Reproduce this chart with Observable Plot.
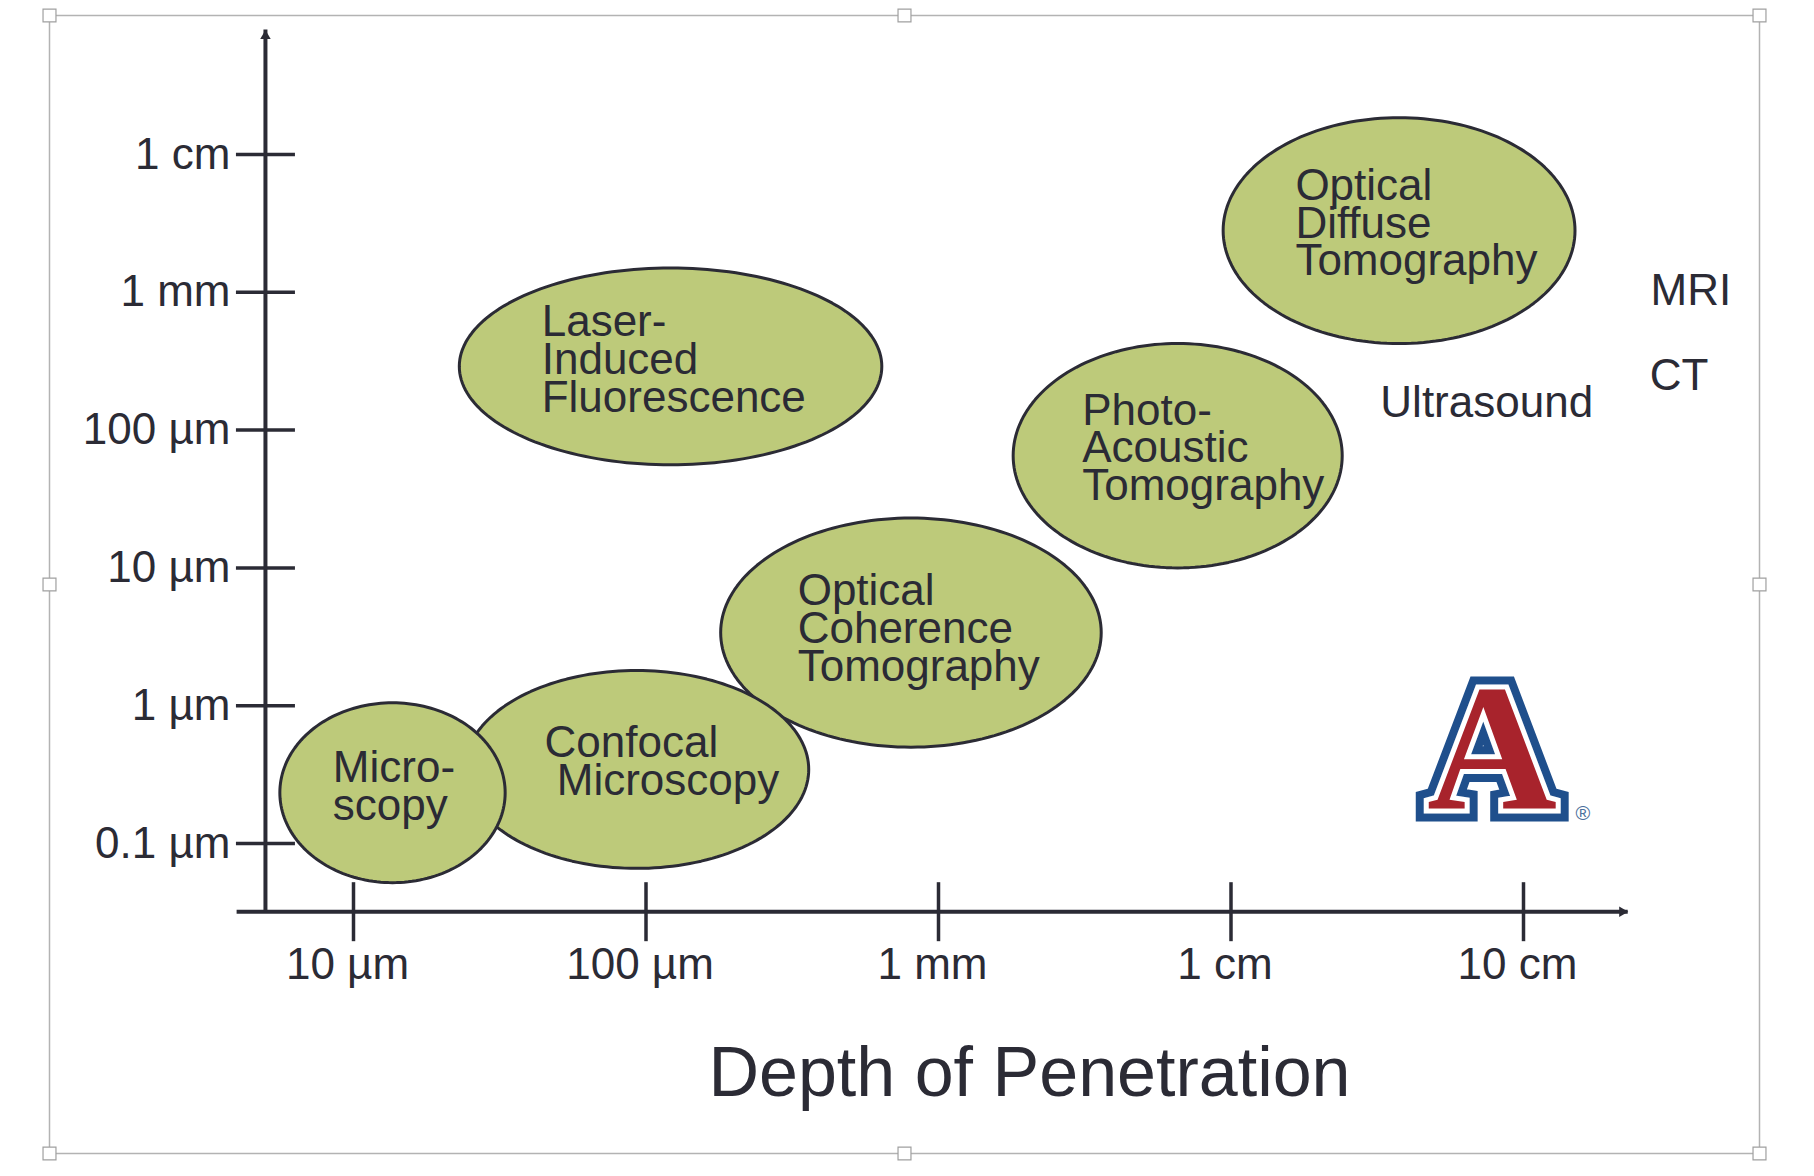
<!DOCTYPE html>
<html>
<head>
<meta charset="utf-8">
<script src="https://cdn.jsdelivr.net/npm/d3@7"></script>
<script src="https://cdn.jsdelivr.net/npm/@observablehq/plot@0.6"></script>
<style>
  html, body { margin: 0; padding: 0; background: #ffffff; }
  #chart svg { display: block; }
</style>
</head>
<body>
<div id="chart"></div>
<script>
// ---------- data (all lengths in µm) ----------
const techniques = ["Microscopy", "Confocal Microscopy", "Laser-Induced Fluorescence",
  "Optical Coherence Tomography", "Photo-Acoustic Tomography", "Optical Diffuse Tomography"];
const techniqueLabels = ["Micro-\nscopy", "Confocal\n\u00a0Microscopy", "Laser-\nInduced\nFluorescence",
  "Optical\nCoherence\nTomography", "Photo-\nAcoustic\nTomography", "Optical\nDiffuse\nTomography"];
// extent of each technique: depth of penetration (x) and resolution (y)
const depthMin = [5.6, 24, 23, 180, 1800, 9400];
const depthMax = [33, 360, 640, 3600, 24000, 150000];
const resolutionMin = [0.052, 0.066, 56, 0.5, 10, 425];
const resolutionMax = [1.05, 1.8, 1500, 23, 425, 18500];
// where each label starts
const labelDepth = [8.5, 45, 44, 330, 3100, 16600];
const labelResolution = [0.437, 0.66, 749, 8.4, 172, 7355];
// stacking order of the ellipses (back to front)
const drawOrder = [2, 3, 1, 0, 4, 5];

const otherModalities = ["Ultrasound", "CT", "MRI"];
const otherDepth = [32400, 270000, 272000];
const otherResolution = [194.5, 304, 1257];

const xTickValues = [10, 100, 1000, 10000, 100000];
const xTickLabels = ["10 µm", "100 µm", "1 mm", "1 cm", "10 cm"];
const yTickValues = [0.1, 1, 10, 100, 1000, 10000];
const yTickLabels = ["0.1 µm", "1 µm", "10 µm", "100 µm", "1 mm", "1 cm"];

// axis lines (where they cross and where they end)
const axisOriginDepth = 5;
const axisOriginResolution = 0.032;
const xAxisStart = 4.0;
const xAxisEnd = 228000;
const yAxisEnd = 80000;

const xTitle = "Depth of Penetration";

const logoText = ["A"];
const logoDepth = [78000];
const logoResolution = [0.47];

// ---------- styles ----------
const ink = "#2b2b35";
const green = "#bdca7a";
const font = "'Liberation Sans', Arial, Helvetica, sans-serif";
const uaBlue = "#1f4f8c";
const uaRed = "#a8232c";

// build the ellipse outlines (in log space) from the read extents
const outline = [];
for (const i of drawOrder) {
  const lx0 = Math.log10(depthMin[i]), lx1 = Math.log10(depthMax[i]);
  const ly0 = Math.log10(resolutionMin[i]), ly1 = Math.log10(resolutionMax[i]);
  const cx = (lx0 + lx1) / 2, rx = (lx1 - lx0) / 2;
  const cy = (ly0 + ly1) / 2, ry = (ly1 - ly0) / 2;
  const n = 180;
  for (let k = 0; k < n; ++k) {
    const t = 2 * Math.PI * k / n;
    outline.push({technique: techniques[i], depth: 10 ** (cx + rx * Math.cos(t)), resolution: 10 ** (cy + ry * Math.sin(t))});
  }
}
const labels = techniques.map((t, i) => ({text: techniqueLabels[i], depth: labelDepth[i], resolution: labelResolution[i]}));
const others = otherModalities.map((t, i) => ({text: t, depth: otherDepth[i], resolution: otherResolution[i]}));
const xTicks = xTickValues.map((v, i) => ({v, label: xTickLabels[i]}));
const yTicks = yTickValues.map((v, i) => ({v, label: yTickLabels[i]}));
const logo = logoText.map((t, i) => ({t, depth: logoDepth[i], resolution: logoResolution[i]}));

const handleAnchors = ["top-left", "top", "top-right", "left", "right", "bottom-left", "bottom", "bottom-right"];

const chart = Plot.plot({
  width: 1814,
  height: 1176,
  marginLeft: 49,
  marginRight: 55,
  marginTop: 15,
  marginBottom: 23,
  style: {fontFamily: font, background: "#ffffff", color: ink},
  x: {type: "log", domain: [10, 100000], range: [353, 1523], axis: null},
  y: {type: "log", domain: [0.1, 10000], range: [843, 154], axis: null},
  marks: [
    // selection box around the picture
    Plot.frame({stroke: "#b3b3b3", strokeWidth: 1.5}),
    ...handleAnchors.map(a => Plot.dot([0], {frameAnchor: a, symbol: "square", r: 7.3, fill: "#ffffff", stroke: "#a0a0a0", strokeWidth: 1.2})),

    // technique ellipses
    Plot.line(outline, {x: "depth", y: "resolution", z: "technique", curve: "linear-closed",
      fill: green, stroke: ink, strokeWidth: 3}),

    // axes
    Plot.ruleY([axisOriginResolution], {y: d => d, x1: xAxisStart, x2: xAxisEnd, stroke: ink, strokeWidth: 4}),
    Plot.ruleX([axisOriginDepth], {x: d => d, y1: axisOriginResolution, y2: yAxisEnd, stroke: ink, strokeWidth: 4}),
    Plot.dot([xAxisEnd], {x: d => d, y: () => axisOriginResolution, symbol: "triangle2", r: 5, rotate: 90, dx: -6, fill: ink, stroke: null}),
    Plot.dot([yAxisEnd], {x: () => axisOriginDepth, y: d => d, symbol: "triangle2", r: 5, rotate: 0, dy: 6, fill: ink, stroke: null}),
    Plot.ruleX(xTicks, {x: "v", y1: () => axisOriginResolution, y2: () => axisOriginResolution,
      insetTop: -29, insetBottom: -30, stroke: ink, strokeWidth: 3.5}),
    Plot.ruleY(yTicks, {y: "v", x1: () => axisOriginDepth, x2: () => axisOriginDepth,
      insetLeft: -29, insetRight: -30, stroke: ink, strokeWidth: 3.5}),
    Plot.text(xTicks, {x: "v", y: () => axisOriginResolution, text: "label", dx: -6, dy: 36,
      lineAnchor: "top", lineHeight: 1, textAnchor: "middle", fontSize: 44, fill: ink, fontFamily: font}),
    Plot.text(yTicks, {x: () => axisOriginDepth, y: "v", text: "label", dx: -35,
      lineAnchor: "middle", lineHeight: 1, textAnchor: "end", fontSize: 44, fill: ink, fontFamily: font}),
    Plot.text([xTitle], {frameAnchor: "bottom", text: d => d, dx: 125, dy: -58, lineAnchor: "bottom",
      fontSize: 70, fill: ink, fontFamily: font}),

    // labels
    Plot.text(labels, {x: "depth", y: "resolution", text: "text", textAnchor: "start", lineAnchor: "top",
      lineHeight: 0.86, fontSize: 44, fill: ink, fontFamily: font}),
    Plot.text(others, {x: "depth", y: "resolution", text: "text", textAnchor: "start", lineAnchor: "top",
      lineHeight: 0.86, fontSize: 44, fill: ink, fontFamily: font}),

    // university logo
    Plot.text(logo, {x: "depth", y: "resolution", text: "t", fontSize: 180, fontWeight: "bold",
      fontFamily: "'Liberation Serif', 'DejaVu Serif', serif", lineAnchor: "middle", lineHeight: 1,
      fill: uaBlue, stroke: uaBlue, strokeWidth: 26, strokeLinejoin: "miter", strokeMiterlimit: 2}),
    Plot.text(logo, {x: "depth", y: "resolution", text: "t", fontSize: 180, fontWeight: "bold",
      fontFamily: "'Liberation Serif', 'DejaVu Serif', serif", lineAnchor: "middle", lineHeight: 1,
      fill: "#ffffff", stroke: "#ffffff", strokeWidth: 10, strokeLinejoin: "miter", strokeMiterlimit: 2}),
    Plot.text(logo, {x: "depth", y: "resolution", text: "t", fontSize: 180, fontWeight: "bold",
      fontFamily: "'Liberation Serif', 'DejaVu Serif', serif", lineAnchor: "middle", lineHeight: 1,
      fill: uaRed}),
    Plot.text(logo, {x: "depth", y: "resolution", text: () => "®", dx: 91, dy: 63, fontSize: 20,
      fill: "#4a6f9c", fontFamily: font})
  ]
});
document.getElementById("chart").appendChild(chart);
</script>
</body>
</html>
